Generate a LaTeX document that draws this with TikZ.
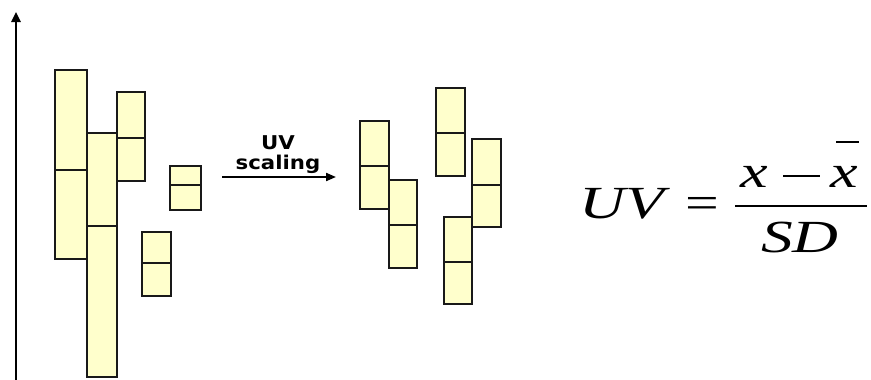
\documentclass[tikz,border=0pt]{standalone}
\usepackage{fontspec}
\setmainfont{Liberation Serif}
\newfontfamily\labelfont{DejaVu Sans}
\usetikzlibrary{arrows.meta}

\definecolor{barfill}{RGB}{255,255,204}
\definecolor{barline}{RGB}{25,25,25}

\tikzset{
  barbox/.style={draw=barline, fill=barfill, line width=2pt},
  barsplit/.style={draw=barline, line width=2pt},
  axisline/.style={line width=2.4pt, -{Triangle[length=10pt,width=9pt]}},
  scalearrow/.style={line width=2pt, -{Triangle[length=10pt,width=8pt]}},
  steplabel/.style={font=\labelfont\bfseries\fontsize{19}{23}\selectfont, inner sep=0pt, anchor=base},
  eqtext/.style={font=\fontsize{46}{52}\selectfont, inner sep=0pt, anchor=base},
}

% a bar split in two: name, left, top, right, bottom, divider height
\newcommand\splitbar[6]{%
  \node[barbox, inner sep=0pt, anchor=north west,
        minimum width={(#4-#2)*1pt}, minimum height={(#5-#3)*1pt}] (#1) at (#2,#3) {};
  \draw[barsplit] (#1.west |- 0,#6) -- (#1.east |- 0,#6);
}

\begin{document}
\begin{tikzpicture}[x=1pt, y=-1pt]
\useasboundingbox (0,0) rectangle (871,380);

% vertical axis
\coordinate (axisfoot) at (16,382);
\coordinate (axistip) at (16,12);
\draw[axisline] (axisfoot) -- (axistip);

% bars before scaling
\splitbar{a1}{54}{69}{86}{258}{170}
\splitbar{a2}{86}{132}{116}{376}{226}
\splitbar{a3}{116}{91}{144}{180}{138}
\splitbar{a4}{169}{165}{200}{209}{185}
\splitbar{a5}{141}{231}{170}{295}{263}

% scaling step
\coordinate (stepfrom) at (222,177);
\coordinate (stepto) at (336,177);
\draw[scalearrow] (stepfrom) -- (stepto);
\node[steplabel] (uvword) at (278,149) {\scalebox{1.12}[1]{UV}};
\node[steplabel] (scword) at (278,169) {\scalebox{1.12}[1]{scaling}};

% bars after scaling
\splitbar{b1}{359}{120}{388}{208}{166}
\splitbar{b2}{388}{179}{416}{267}{225}
\splitbar{b3}{435}{87}{464}{175}{133}
\splitbar{b4}{471}{138}{500}{226}{185}
\splitbar{b5}{443}{216}{471}{303}{262}

% formula UV = (x - xbar) / SD
\node[eqtext, anchor=base west] (lhs) at (579,218) {\scalebox{1.38}[1]{\itshape UV}};
\node[eqtext] (eq) at (702,218) {\scalebox{1.3}[1]{=}};
\node[eqtext, anchor=base west] (xa) at (740,187) {\scalebox{1.35}[1]{\itshape x}};
\coordinate (minusL) at (783,176);
\coordinate (minusR) at (820,176);
\draw[line width=2pt] (minusL) -- (minusR);
\node[eqtext, anchor=base east] (xb) at (858,187) {\scalebox{1.35}[1]{\itshape x}};
\node[eqtext] (den) at (800,252) {\scalebox{1.38}[1]{\itshape SD}};
\coordinate (barL) at (735,206);
\coordinate (barR) at (867,206);
\draw[line width=2.2pt] (barL) -- (barR);
\coordinate (olL) at (836,142);
\coordinate (olR) at (859,142);
\draw[line width=2pt] (olL) -- (olR);
\end{tikzpicture}
\end{document}
